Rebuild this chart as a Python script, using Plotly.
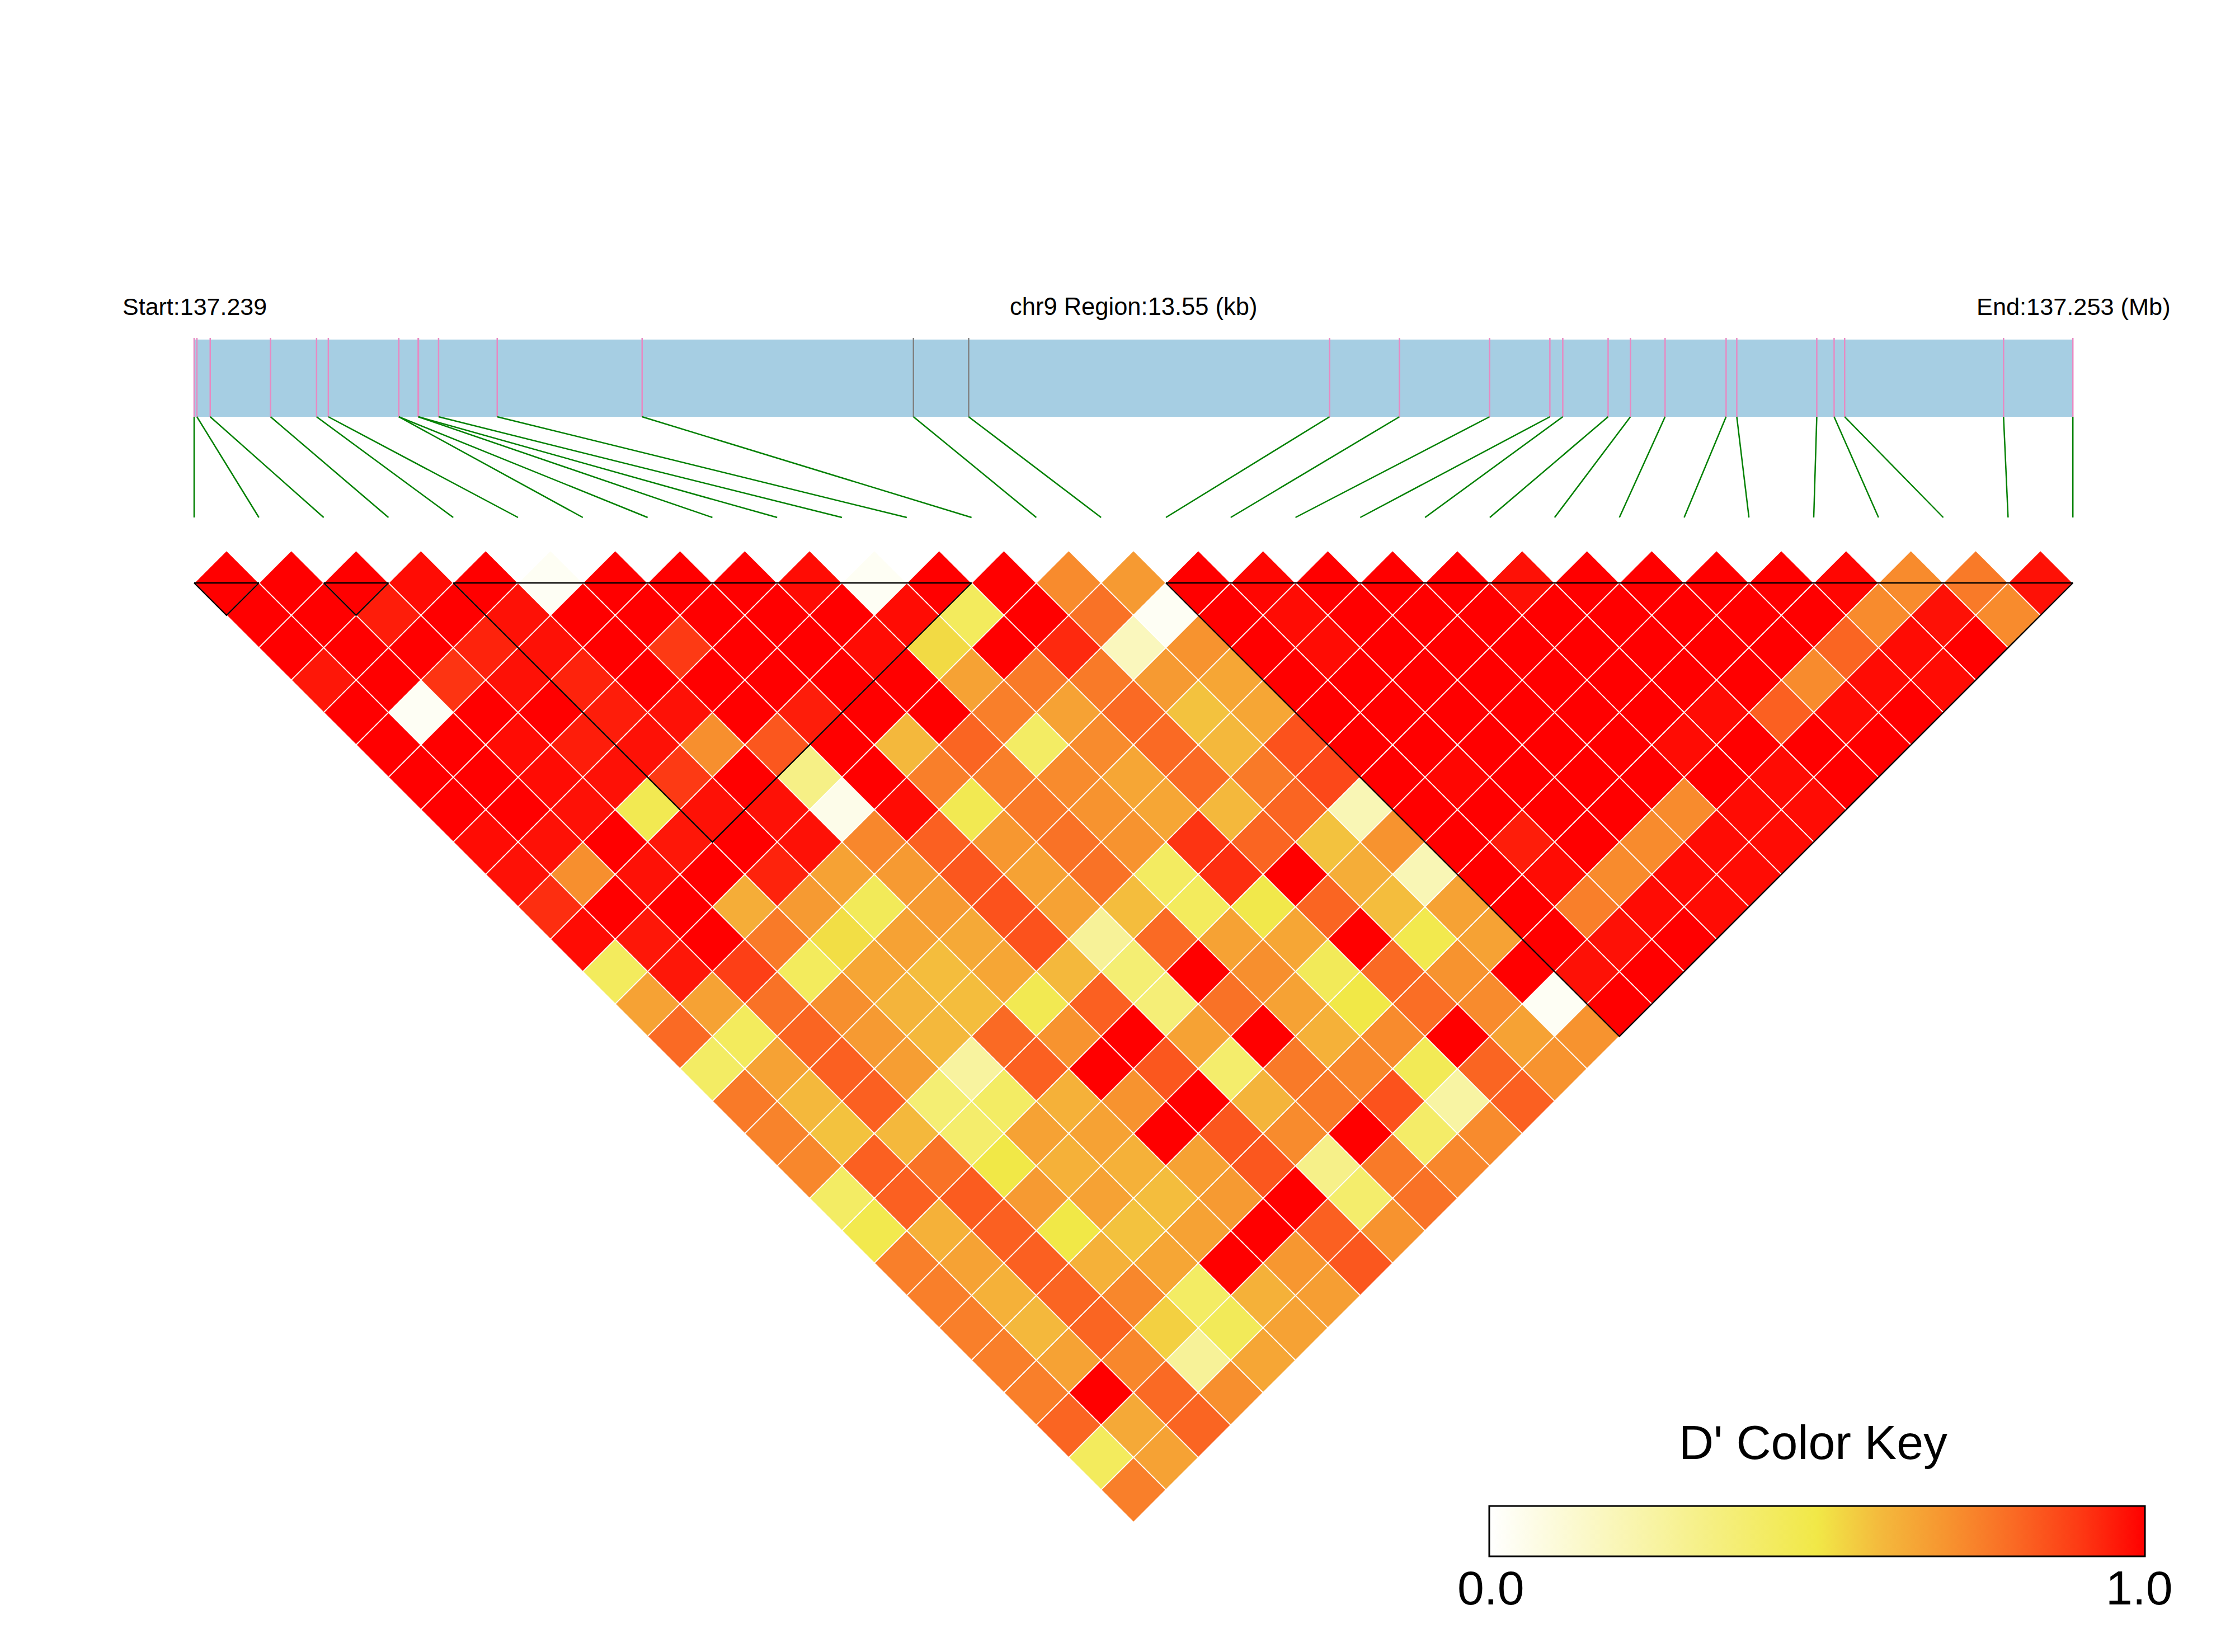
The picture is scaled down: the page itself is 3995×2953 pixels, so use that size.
import plotly.graph_objects as go

# D' values, one list per distance between SNPs (d = j - i)
d01 = [1,1,1,.98,1,.03,1,1,1,.98,.03,1,1,.72,.68,1,.99,1,1,1,.97,1,1,1,1,.99,.72,.76,.97]
d02 = [1,1,.95,1,.97,1,1,1,1,1,.98,.44,1,.78,.03,1,.98,1,1,1,1,1,1,1,1,.72,.97,.72]
d03 = [1,1,1,.94,.97,1,.9,1,1,.98,.53,1,.93,.18,.7,1,.98,1,1,1,1,1,1,1,.81,.98,1]
d04 = [.96,1,.91,.97,.94,1,1,1,1,1,.66,.76,.76,.68,.65,1,1,1,1,1,1,1,1,.72,.98,.98]
d05 = [1,.03,1,1,.95,.97,1,.95,1,1,.75,.66,.8,.58,.65,1,1,1,1,1,1,.98,.82,.98,1]
d06 = [1,1,.98,.95,.97,.71,.84,1,.6,.81,.42,.72,.8,.6,.85,1,1,1,1,1,.98,1,1,1]
d07 = [1,1,.98,.97,.9,1,.33,1,.75,.75,.72,.65,.8,.76,.87,1,.99,1,1,1,1,.98,1]
d08 = [1,1,.97,.47,.97,.97,.06,.98,.47,.76,.7,.65,.6,.81,.2,1,1,1,1,.72,.98,.98]
d09 = [.98,.97,1,.96,1,.97,.73,.82,.69,.78,.7,.91,.81,.58,.7,1,.95,1,.72,.98,.98]
d10 = [.97,.71,.97,1,.94,.66,.68,.84,.66,.78,.43,.92,1,.63,.2,1,.98,.72,.98,.98]
d11 = [.92,1,1,.63,.68,.45,.68,.85,.66,.59,.44,.49,.81,.59,.66,1,.75,.98,.98]
d12 = [.98,.96,1,.76,.52,.66,.64,.85,.28,.8,.66,.65,1,.48,.66,1,.97,1]
d13 = [.44,.96,.89,.44,.65,.59,.65,.6,.38,1,.71,.45,.8,.7,1,.97,1]
d14 = [.66,.66,.78,.71,.61,.59,.47,.82,.37,.78,.66,.5,.79,.72,.03,1]
d15 = [.8,.44,.81,.68,.6,.8,.7,1,.66,1,.62,.72,1,.66,.7]
d16 = [.42,.66,.82,.67,.26,.82,1,.84,.4,.76,.73,.46,.81,.7]
d17 = [.76,.6,.82,.38,.42,.62,.7,1,.61,.76,.85,.25,.82]
d18 = [.74,.58,.6,.4,.66,.66,1,.84,.72,1,.41,.72]
d19 = [.73,.82,.78,.5,.62,.62,.66,.84,.32,.76,.73]
d20 = [.42,.82,.83,.68,.66,.59,.68,1,.4,.78]
d21 = [.48,.62,.82,.5,.58,.66,1,.82,.7]
d22 = [.75,.66,.82,.62,.65,1,.69,.84]
d23 = [.75,.62,.81,.73,.42,.62,.67]
d24 = [.75,.6,.81,.55,.45,.66]
d25 = [.75,.66,.73,.28,.65]
d26 = [.75,1,.8,.71]
d27 = [.81,.64,.81]
d28 = [.44,.66]
d29 = [.75]
rows = [d01,d02,d03,d04,d05,d06,d07,d08,d09,d10,d11,d12,d13,d14,d15,
        d16,d17,d18,d19,d20,d21,d22,d23,d24,d25,d26,d27,d28,d29]

# SNP positions, bp from region start
snp_pos = [0,20,116,551,883,968,1476,1476,1616,1618,1763,2186,3231,5188,5586,
           8189,8693,9343,9778,9871,10198,10359,10609,11049,11126,11703,11828,11904,13050,13550]
grey_snps = [13, 14]
region_bp = 13550
blocks = [(0,1),(2,3),(4,12),(15,29)]

colorscale = [[0,"#ffffff"],[.5,"#f1e847"],[.6,"#f4b83c"],[.7,"#f7932f"],
              [.8,"#fa6a24"],[.9,"#fd3a14"],[1,"#ff0000"]]

# page geometry (page pixels; the plot sits 8 px in from the page corner)
W, H = 3995, 2953
PAD = 8
X0, UX = 347.0, 115.8     # pixel of SNP 0, pixels per SNP step
Y0, UY = 1042.0, 57.9     # pixel of first row, pixels per row
n = len(snp_pos)
to_k = lambda p: p / region_bp * (n - 1)
BAR_TOP, BAR_BOT = (607-Y0)/UY, (745-Y0)/UY
TICK_TOP = (604-Y0)/UY
LINK_END = (925-Y0)/UY

xs, ys, vs = [], [], []
for d, row in enumerate(rows, start=1):
    for i, v in enumerate(row):
        xs.append(i + d/2); ys.append(d-1); vs.append(v)

fig = go.Figure()

# gene bar
fig.add_shape(type="rect", x0=to_k(0), x1=to_k(region_bp), y0=BAR_TOP, y1=BAR_BOT,
              fillcolor="#a6cee3", line_width=0, layer="below")

# SNP ticks on the bar
for grey, color in ((False,"#e78ac3"),(True,"#808080")):
    tx, ty = [], []
    for idx, p in enumerate(snp_pos):
        if (idx in grey_snps) == grey:
            tx += [to_k(p), to_k(p), None]; ty += [TICK_TOP, BAR_BOT, None]
    fig.add_trace(go.Scatter(x=tx, y=ty, mode="lines", line=dict(color=color, width=2.5),
                             hoverinfo="skip", showlegend=False))

# links from bar to grid
lx, ly = [], []
for idx, p in enumerate(snp_pos):
    lx += [to_k(p), idx, None]; ly += [BAR_BOT, LINK_END, None]
fig.add_trace(go.Scatter(x=lx, y=ly, mode="lines", line=dict(color="#008000", width=2.5),
                         hoverinfo="skip", showlegend=False))

# LD cells
fig.add_trace(go.Scatter(
    x=xs, y=ys, mode="markers", showlegend=False,
    marker=dict(symbol="diamond", size=UY/0.65, color=vs, cmin=0, cmax=1,
                colorscale=colorscale, line=dict(color="white", width=1.8),
                showscale=True,
                colorbar=dict(orientation="h", x=(2662-PAD)/W, xanchor="left",
                              y=1-(2692-PAD)/H, yanchor="top", yref="paper", xref="paper",
                              lenmode="pixels", len=1172, thicknessmode="pixels", thickness=90,
                              xpad=0, ypad=0, outlinecolor="black", outlinewidth=3,
                              tickmode="array", tickvals=[0,1], showticklabels=False, ticks=""))))

# haplotype blocks
bx, by = [], []
for a, b in blocks:
    bx += [a, b, (a+b)/2, a, None]; by += [0, 0, b-a, 0, None]
fig.add_trace(go.Scatter(x=bx, y=by, mode="lines", line=dict(color="black", width=2.4),
                         hoverinfo="skip", showlegend=False))

def label(k, ypx, text, size):
    fig.add_annotation(x=k, y=(ypx-Y0)/UY, text=text, showarrow=False, xref="x", yref="y",
                       xanchor="center", yanchor="middle",
                       font=dict(family="Liberation Sans", size=size, color="black"))

label(0.01, 548, "Start:137.239", 43)
label(14.5, 548, "chr9 Region:13.55 (kb)", 43.5)
label(29.01, 548, "End:137.253 (Mb)", 43.3)
label((3241-X0)/UX, 2578, "D' Color Key", 86)
label((2665-X0)/UX, 2838, "0.0", 86)
label((3824-X0)/UX, 2838, "1.0", 86)

fig.update_layout(
    width=W, height=H, autosize=False, margin=dict(l=0, r=0, t=0, b=0),
    paper_bgcolor="white", plot_bgcolor="white",
    xaxis=dict(range=[-(X0-PAD)/UX, (W-X0+PAD)/UX], visible=False, fixedrange=True),
    yaxis=dict(range=[(H-Y0+PAD)/UY, -(Y0-PAD)/UY], visible=False, fixedrange=True),
)
fig.write_html("out.html")
